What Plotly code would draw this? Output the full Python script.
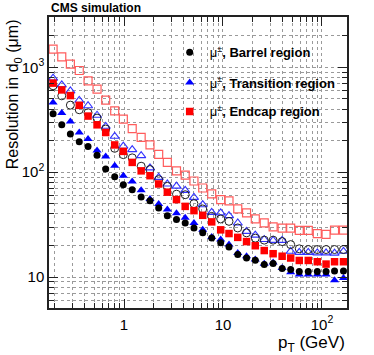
import plotly.graph_objects as go

# pT bin centres (GeV)
pt = [0.192, 0.235, 0.287, 0.353, 0.433, 0.534, 0.653, 0.805, 0.984, 1.21,
      1.49, 1.83, 2.24, 2.74, 3.39, 4.15, 5.09, 6.24, 7.69, 9.48,
      11.5, 14.1, 17.3, 21.2, 26.1, 32.1, 39.6, 48.3, 59.0, 72.7,
      89.7, 110, 134, 165]

# d0 resolution (um), filled = muons, open = second sample
barrel = [361, 283, 231, 195, 176, 145, 107, 90.6, 76.0, 68.1,
          58.0, 53.5, 45.6, 38.5, 35.3, 32.8, 29.4, 26.4, 23.6, 21.2,
          19.4, 16.4, 15.2, 14.5, 13.2, 13.5, 12.1, 11.8, 11.3, 11.3,
          11.3, 11.3, 11.4, 11.4]
barrel_open = [667, 535, 436, 394, 369, 328, 258, 169, 147, 137,
               114, 106, 84.9, 73.3, 61.7, 61.0, 50.1, 44.6, 37.9, 35.8,
               34.0, 29.4, 26.4, 23.5, 22.5, 22.5, 21.8, 20.4, 18.6, 18.3,
               18.3, 18.3, 18.3, 18.3]
transition = [462, 366, 305, 239, 207, 161, 141, 115, 92.6, 81.7,
              67.1, 55.6, 49.8, 44.0, 40.5, 36.7, 32.8, 28.3, 24.1, 22.8,
              20.4, 17.0, 15.8, 14.7, 13.4, 13.8, 12.2, 11.1, 10.6, 10.6,
              10.6, 10.6, 9.3, 9.8]
transition_open = [789, 681, 597, 485, 430, 349, 274, 220, 177, 164,
                   144, 110, 89.2, 77.2, 73.6, 67.1, 57.5, 49.0, 41.4, 40.9,
                   38.5, 32.8, 27.3, 25.1, 22.8, 22.4, 22.4, 17.6, 17.2, 17.2,
                   17.0, 17.0, 16.9, 17.6]
endcap = [707, 609, 538, 434, 343, 283, 239, 182, 158, 124,
          103, 92.6, 77.2, 64.5, 54.8, 47.2, 43.0, 38.8, 33.6, 28.2,
          26.0, 23.9, 21.8, 19.9, 17.9, 16.7, 15.8, 15.2, 14.4, 14.4,
          14.0, 13.3, 14.0, 14.0]
endcap_open = [1490, 1259, 1072, 933, 744, 620, 487, 385, 321, 260,
               215, 182, 148, 124, 103, 93.6, 82.4, 70.7, 62.0, 54.7,
               53.2, 44.6, 40.9, 35.9, 32.8, 30.1, 29.3, 29.3, 27.9, 27.9,
               26.0, 25.5, 28.0, 28.0]

labels = ["Barrel region", "Transition region", "Endcap region"]
x_ticks = [1, 10, 100]
x_ticktext = ["1", "10", "10<sup>2</sup>"]
y_ticks = [10, 100, 1000]
y_ticktext = ["10", "10<sup>2</sup>", "10<sup>3</sup>"]

FONT = "Liberation Sans, Arial, sans-serif"
MU = "μ<sup>±</sup>"

fig = go.Figure()

# open markers first, filled ones drawn on top
fig.add_trace(go.Scatter(x=pt, y=endcap_open, mode="markers", showlegend=False,
                         marker=dict(symbol="square-open", size=8, color="#ff5c5c",
                                     line=dict(width=1.2))))
fig.add_trace(go.Scatter(x=pt, y=transition_open, mode="markers", showlegend=False,
                         marker=dict(symbol="triangle-up-open", size=8, color="#3333ff",
                                     line=dict(width=1.1))))
fig.add_trace(go.Scatter(x=pt, y=barrel_open, mode="markers", showlegend=False,
                         marker=dict(symbol="circle-open", size=8, color="#222222",
                                     line=dict(width=1))))
fig.add_trace(go.Scatter(x=pt, y=endcap, mode="markers", legend="legend3",
                         name=MU + "<b>, " + labels[2] + "</b>",
                         marker=dict(symbol="square", size=7.5, color="#ff0000")))
fig.add_trace(go.Scatter(x=pt, y=transition, mode="markers", legend="legend2",
                         name=MU + "<b>, " + labels[1] + "</b>",
                         marker=dict(symbol="triangle-up", size=8, color="#0000ff")))
fig.add_trace(go.Scatter(x=pt, y=barrel, mode="markers", legend="legend",
                         name=MU + "<b>, " + labels[0] + "</b>",
                         marker=dict(symbol="circle", size=7, color="#000000")))

x_minor = [m * 10 ** e for e in range(-1, 3) for m in range(2, 10)]
y_minor = [m * 10 ** e for e in range(0, 4) for m in range(2, 10)]

grid = dict(showgrid=True, gridcolor="#9a9a9a", griddash="dot", gridwidth=1)
axis_common = dict(
    type="log", showline=True, linecolor="#222222", linewidth=1.5, mirror="ticks",
    ticks="inside", ticklen=9, tickcolor="#222222",
    tickfont=dict(family=FONT, size=15, color="#000000"), zeroline=False, **grid,
)

fig.update_xaxes(
    range=[-0.758, 2.253], tickvals=x_ticks, ticktext=x_ticktext,
    ticklabelstandoff=2,
    minor=dict(tickvals=x_minor, ticks="inside", ticklen=5, tickcolor="#222222", **grid),
    **axis_common,
)
fig.update_yaxes(
    range=[0.705, 3.48], tickvals=y_ticks, ticktext=y_ticktext,
    minor=dict(tickvals=y_minor, ticks="inside", ticklen=5, tickcolor="#222222", **grid),
    **axis_common,
)

leg = dict(x=0.405, xanchor="left", yanchor="top", bgcolor="rgba(0,0,0,0)",
           font=dict(family=FONT, size=13, color="#000000"))
fig.update_layout(
    width=374, height=355,
    margin=dict(l=49, r=27, t=17, b=47),
    paper_bgcolor="white", plot_bgcolor="white",
    font=dict(family=FONT, color="#000000"),
    legend=dict(y=0.930, **leg),
    legend2=dict(y=0.826, **leg),
    legend3=dict(y=0.727, **leg),
    annotations=[
        dict(text="<b>CMS simulation</b>", xref="paper", yref="paper", x=0.0, y=1.0,
             xanchor="left", yanchor="bottom", showarrow=False,
             font=dict(family=FONT, size=12)),
        dict(text="Resolution in d<sub>0</sub> (μm)", xref="paper", yref="paper",
             x=-0.12, y=1.0, xanchor="center", yanchor="top", textangle=-90,
             showarrow=False, font=dict(family=FONT, size=16)),
        dict(text="p<sub>T</sub> (GeV)", xref="paper", yref="paper", x=1.0, y=-0.078,
             xanchor="right", yanchor="top", showarrow=False,
             font=dict(family=FONT, size=17)),
    ],
)

fig.write_html("out.html", config={"displayModeBar": False},
               post_script="document.body.style.margin='0';")
